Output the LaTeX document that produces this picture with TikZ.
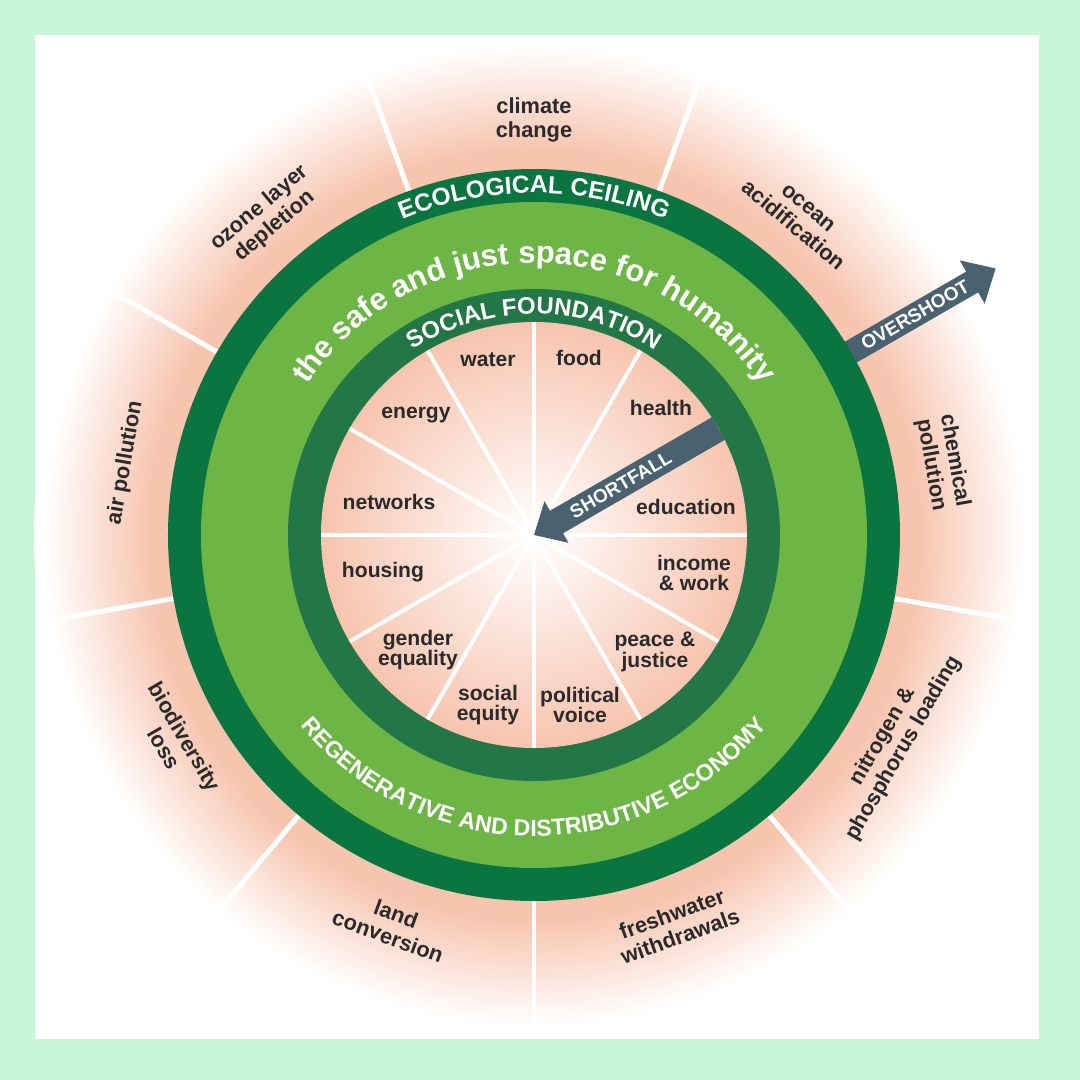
\documentclass[tikz,border=0pt]{standalone}
\usepackage{fontspec}
\setmainfont{Liberation Sans}
\usepackage{xcolor}
\usepackage{tikz}
\usetikzlibrary{decorations.text}
\definecolor{framegreen}{HTML}{C8F7D6}
\definecolor{ceilgreen}{HTML}{0A7541}
\definecolor{safegreen}{HTML}{6DB646}
\definecolor{foundgreen}{HTML}{237645}
\definecolor{salmon}{HTML}{F7C4AE}
\definecolor{arrowslate}{HTML}{4A6170}
\definecolor{labelgray}{HTML}{2A2A2A}
\pgfdeclareradialshading{outerglow}{\pgfpointorigin}{color(0bp)=(salmon); color(19.2bp)=(salmon); color(24.5bp)=(white); color(25bp)=(white); color(50bp)=(white)}

\begin{document}
\begin{tikzpicture}[
  x=0.025cm, y=0.025cm,
  lbl/.style={font=\fontsize{15.5}{17}\selectfont\bfseries, text=labelgray, align=center, inner sep=0pt},
  sflbl/.style={font=\fontsize{15}{14.8}\selectfont\bfseries, text=labelgray, align=center, inner sep=0pt},
  spoke/.style={draw=white, line width=3.5pt},
  thinspoke/.style={draw=white, line width=2.8pt},
  arrowtxt/.style={font=\fontsize{13.5}{13.5}\selectfont\bfseries, text=white, inner sep=0pt},
  ringtxt/.style={decorate, decoration={text along path, text align=center, text={#1}}}
]

% frame
\fill[framegreen] (-534,-545) rectangle (546,535);
\fill[white] (-499,-504) rectangle (505,500);
\useasboundingbox (-534,-545) rectangle (546,535);

% planetary boundaries
\shade[shading=outerglow] (0,0) circle[radius=500];
\foreach \a in {30,70,...,350}
  \draw[spoke] (\a:360) -- (\a:495);

\fill[arrowslate, rotate=30] (340,-12) -- (506,-12) -- (506,-25) -- (533,0) -- (506,25) -- (506,12) -- (340,12) -- cycle;
\node[arrowtxt, rotate=30] (overshoot) at (30:440) {OVERSHOOT};

\node[lbl] (climate) at (90:415) {climate\\change};
\node[lbl, rotate=-40] (ocean) at (50:415) {ocean\\acidification};
\node[lbl, rotate=-80] (chemical) at (10:415) {chemical\\pollution};
\node[lbl, rotate=60] (nitrogen) at (-30:415) {nitrogen \&\\phosphorus loading};
\node[lbl, rotate=20] (freshwater) at (-70:415) {freshwater\\withdrawals};
\node[lbl, rotate=-20] (land) at (-110:415) {land\\conversion};
\node[lbl, rotate=-60] (biodiv) at (-150:415) {biodiversity\\loss};
\node[lbl, rotate=80] (air) at (170:415) {air pollution};
\node[lbl, rotate=40] (ozone) at (130:415) {ozone layer\\depletion};

% doughnut
\fill[ceilgreen] (0,0) circle[radius=366];
\fill[safegreen] (0,0) circle[radius=333];
\fill[foundgreen] (0,0) circle[radius=246];
\shade[inner color=white, outer color=salmon] (0,0) circle[radius=213];
\foreach \a in {0,30,...,330}
  \draw[thinspoke] (0,0) -- (\a:213);

\path[ringtxt={|\fontsize{17.5}{17.5}\selectfont\bfseries\color{white}|ECOLOGICAL CEILING}] (170:342) arc[start angle=170, end angle=10, radius=342];
\path[ringtxt={|\fontsize{22}{22}\selectfont\bfseries\color{white}|the safe and just space for humanity}] (178:272) arc[start angle=178, end angle=2, radius=272];
\path[ringtxt={|\fontsize{17}{17}\selectfont\bfseries\color{white}|SOCIAL FOUNDATION}] (170:221) arc[start angle=170, end angle=10, radius=221];
\path[ringtxt={|\fontsize{16.5}{16.5}\selectfont\bfseries\color{white}|REGENERATIVE AND DISTRIBUTIVE ECONOMY}] (185:301) arc[start angle=185, end angle=355, radius=301];

% social foundation
\node[sflbl] (water) at (-46,175) {water};
\node[sflbl] (food) at (45,177) {food};
\node[sflbl] (energy) at (-118,120) {energy};
\node[sflbl] (health) at (127,127) {health};
\node[sflbl] (networks) at (-145,33) {networks};
\node[sflbl] (education) at (152,28) {education};
\node[sflbl] (housing) at (-151,-37) {housing};
\node[sflbl] (income) at (160,-38) {income\\\& work};
\node[sflbl] (gender) at (-116,-115) {gender\\equality};
\node[sflbl] (peace) at (121,-117) {peace \&\\justice};
\node[sflbl] (social) at (-46,-170) {social\\equity};
\node[sflbl] (political) at (46,-170) {political\\voice};

\fill[arrowslate, rotate=30] (0,0) -- (26,-24) -- (26,-13) -- (213,-13) -- (213,13) -- (26,13) -- (26,24) -- cycle;
\node[arrowtxt, rotate=30] (shortfall) at (30:100) {SHORTFALL};

\end{tikzpicture}
\end{document}
